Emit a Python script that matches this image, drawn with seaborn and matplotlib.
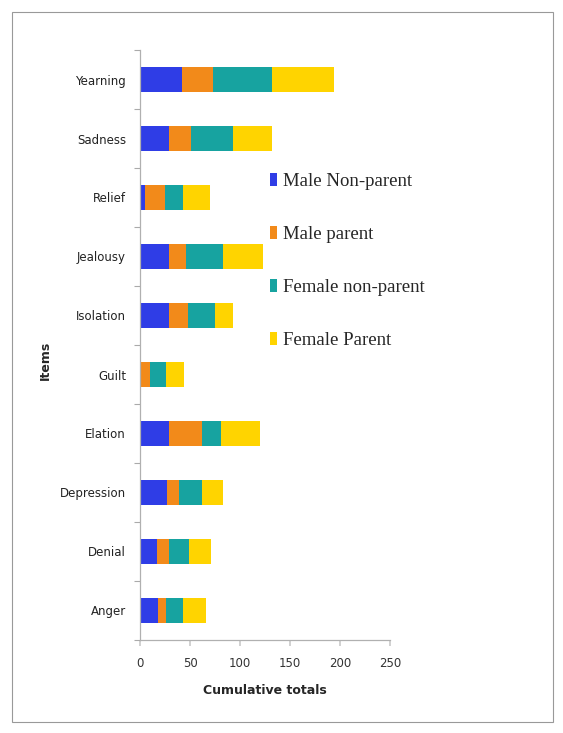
import numpy as np
import pandas as pd
import matplotlib
matplotlib.use("Agg")
import matplotlib.pyplot as plt
import seaborn as sns
from matplotlib.patches import Patch, Rectangle

categories = ["Yearning", "Sadness", "Relief", "Jealousy", "Isolation",
              "Guilt", "Elation", "Depression", "Denial", "Anger"]
male_nonparent = [42, 29, 5, 29, 29, 0, 29, 27, 17, 18]
male_parent = [31, 22, 20, 17, 19, 10, 33, 12, 12, 8]
female_nonparent = [59, 42, 18, 37, 27, 16, 19, 23, 20, 17]
female_parent = [62, 39, 27, 40, 18, 18, 39, 21, 22, 23]
series_names = ["Male Non-parent", "Male parent", "Female non-parent", "Female Parent"]
colors = ["#2f3de6", "#f28a1a", "#17a3a0", "#ffd400"]
xticks = [0, 50, 100, 150, 200, 250]

sns.set_theme(style="white")
plt.rcParams["font.family"] = ["DejaVu Sans"]

fig = plt.figure(figsize=(5.63, 7.33), dpi=100)
ax = fig.add_axes([140 / 563, 1 - 640 / 733, 250 / 563, 590 / 733])

vals = np.array([male_nonparent, male_parent, female_nonparent, female_parent], dtype=float)
cum = np.cumsum(vals, axis=0)
for i in range(3, -1, -1):
    df = pd.DataFrame({"Items": categories, "total": cum[i]})
    sns.barplot(data=df, x="total", y="Items", orient="h", color=colors[i],
                saturation=1, width=0.41, ax=ax, linewidth=0)

ax.set_xlim(0, 250)
ax.set_ylim(len(categories) - 0.5, -0.5)
ax.set_xticks(xticks)
ax.set_xticklabels([str(t) for t in xticks], fontsize=8.5, color="#333333")
ax.tick_params(axis="y", labelsize=8.5, length=0, pad=10, labelcolor="#222222")
ax.set_yticks(np.arange(-0.5, len(categories), 1), minor=True)
ax.tick_params(axis="y", which="minor", length=4, color="#aaaaaa", width=0.8, left=True)
ax.tick_params(axis="x", length=4, color="#cccccc", bottom=True, pad=8)
for s in ["top", "right"]:
    ax.spines[s].set_visible(False)
for s in ["left", "bottom"]:
    ax.spines[s].set_color("#b0b0b0")
    ax.spines[s].set_linewidth(0.9)
ax.set_xlabel("Cumulative totals", fontsize=9, fontweight="bold", labelpad=10)
ax.set_ylabel("Items", fontsize=9, fontweight="bold")
ax.yaxis.set_label_coords((52 - 140) / 250, (640 - 360) / 590)

handles = [Patch(facecolor=c, edgecolor="none") for c in colors]
fig.legend(handles, series_names, loc="upper left",
           bbox_to_anchor=(262 / 563, 1 - 165 / 733), frameon=False,
           prop={"family": "Liberation Serif", "size": 13.5},
           handlelength=0.4, handleheight=0.75, handletextpad=0.3,
           labelspacing=1.9, borderaxespad=0)

fig.patches.append(Rectangle((12 / 563, 1 - 722 / 733), 541 / 563, 710 / 733,
                             transform=fig.transFigure, fill=False,
                             edgecolor="#999999", linewidth=0.8))

fig.savefig("out.png", dpi=100)
